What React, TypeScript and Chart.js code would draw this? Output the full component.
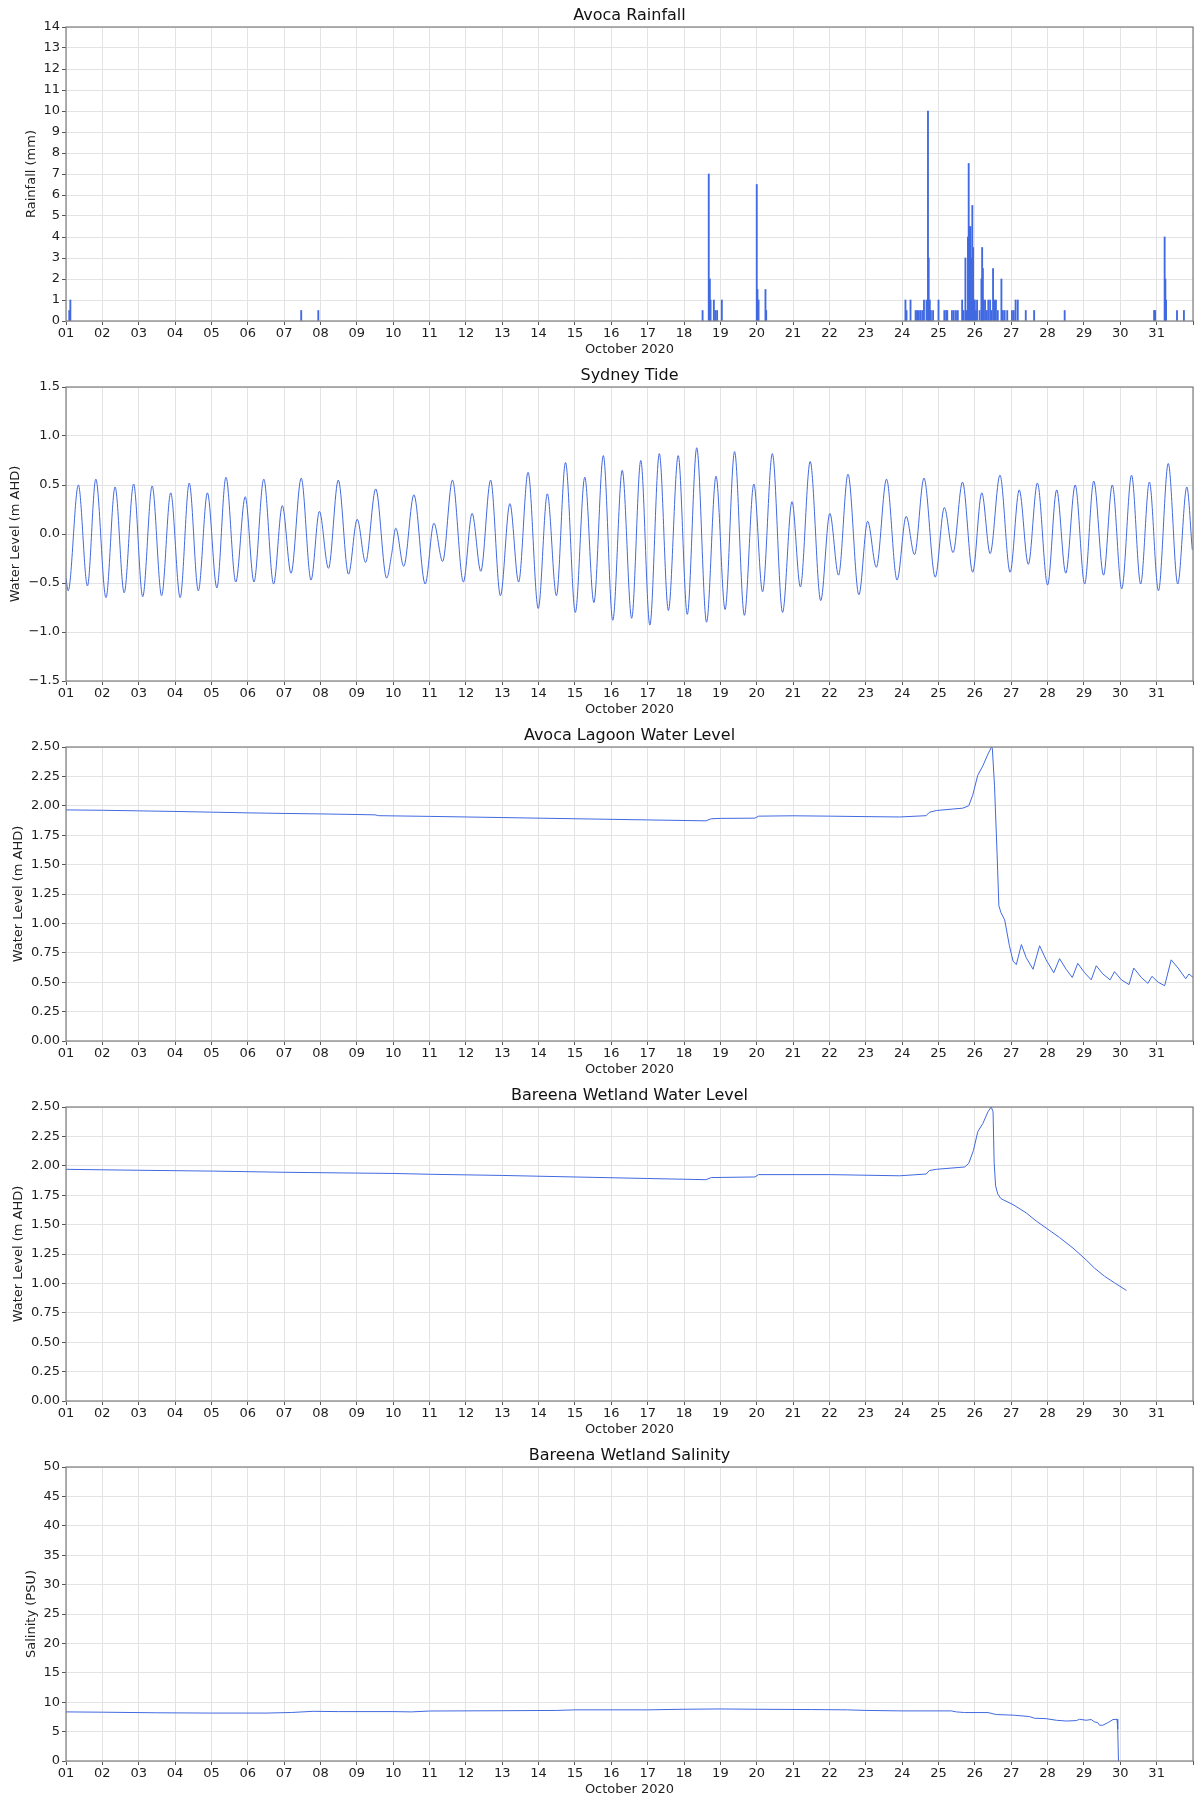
import React, { useEffect, useRef } from "react";
import { Chart, registerables } from "chart.js";

Chart.register(...registerables);

// ---------------- DATA (x = days since 1 Oct 2020 00:00) ----------------
const dayTickLabels = [
  "01", "02", "03", "04", "05", "06", "07", "08", "09", "10", "11", "12", "13", "14", "15", "16",
  "17", "18", "19", "20", "21", "22", "23", "24", "25", "26", "27", "28", "29", "30", "31",
];

const rainDay = [
  0.09, 0.12, 6.47, 6.94,
  17.51, 17.68, 17.71, 17.73, 17.82, 17.86, 17.91, 18.04,
  19.0, 19.02, 19.05, 19.24, 19.26,
  23.09, 23.12, 23.23, 23.37, 23.41, 23.46, 23.51, 23.56, 23.6, 23.67, 23.71, 23.73, 23.76, 23.79, 23.85,
  24.0, 24.16, 24.21, 24.24, 24.37, 24.42, 24.48, 24.53, 24.65, 24.69, 24.74, 24.78, 24.81, 24.83, 24.85,
  24.88, 24.91, 24.93, 24.95, 24.97, 25.0, 25.03, 25.06, 25.13, 25.18, 25.2, 25.22, 25.24, 25.28, 25.33,
  25.37, 25.42, 25.45, 25.5, 25.54, 25.58, 25.63, 25.73, 25.77, 25.82, 25.89, 26.02, 26.07, 26.12, 26.18,
  26.4, 26.63, 27.47, 29.93, 29.96, 30.22, 30.24, 30.26, 30.56, 30.75,
];
const rainMm = [
  0.5, 1.0, 0.5, 0.5,
  0.5, 7.0, 2.0, 1.0, 1.0, 0.5, 0.5, 1.0,
  6.5, 1.5, 1.0, 1.5, 0.5,
  1.0, 0.5, 1.0, 0.5, 0.5, 0.5, 0.5, 0.5, 1.0, 1.0, 10.0, 3.0, 1.0, 0.5, 0.5,
  1.0, 0.5, 0.5, 0.5, 0.5, 0.5, 0.5, 0.5, 1.0, 0.5, 3.0, 0.5, 4.0, 7.5, 4.5,
  4.5, 3.0, 5.5, 3.5, 1.0, 1.0, 0.5, 1.0, 0.5, 2.0, 3.5, 2.5, 1.0, 1.0, 0.5,
  1.0, 1.0, 0.5, 2.5, 1.0, 1.0, 0.5, 2.0, 0.5, 0.5, 0.5, 0.5, 0.5, 1.0, 1.0,
  0.5, 0.5, 0.5, 0.5, 0.5, 4.0, 2.0, 1.0, 0.5, 0.5,
];

const tideDay = [
  0.0, 0.06, 0.34, 0.59, 0.82, 1.1, 1.35, 1.6, 1.86, 2.11, 2.37, 2.63, 2.88, 3.14, 3.39, 3.64, 3.89,
  4.15, 4.4, 4.67, 4.93, 5.17, 5.44, 5.71, 5.95, 6.19, 6.47, 6.74, 6.97, 7.22, 7.49, 7.77, 8.01, 8.24,
  8.52, 8.82, 8.96, 9.07, 9.29, 9.57, 9.88, 10.12, 10.36, 10.63, 10.93, 11.17, 11.41, 11.68, 11.95,
  12.21, 12.45, 12.71, 12.99, 13.24, 13.49, 13.74, 14.01, 14.27, 14.52, 14.78, 15.04, 15.3, 15.56,
  15.81, 16.06, 16.32, 16.57, 16.84, 17.09, 17.35, 17.62, 17.88, 18.13, 18.39, 18.66, 18.92, 19.16,
  19.43, 19.71, 19.97, 20.2, 20.47, 20.76, 21.01, 21.25, 21.51, 21.81, 22.05, 22.29, 22.57, 22.86,
  23.11, 23.34, 23.6, 23.91, 24.16, 24.4, 24.66, 24.94, 25.19, 25.42, 25.69, 25.97, 26.22, 26.47,
  26.72, 27.0, 27.25, 27.5, 27.76, 28.02, 28.27, 28.54, 28.78, 29.04, 29.31, 29.56, 29.8, 30.05,
  30.32, 30.58, 30.83, 30.98,
];
const tideLevel = [
  -0.45, -0.58, 0.5, -0.53, 0.56, -0.65, 0.48, -0.6, 0.51, -0.64, 0.49, -0.63, 0.42, -0.65, 0.52, -0.58, 0.42,
  -0.55, 0.58, -0.49, 0.38, -0.49, 0.56, -0.51, 0.29, -0.4, 0.57, -0.47, 0.23, -0.35, 0.55, -0.41, 0.15, -0.29,
  0.46, -0.45, -0.2, 0.06, -0.33, 0.4, -0.51, 0.11, -0.28, 0.55, -0.49, 0.21, -0.38, 0.55, -0.63,
  0.31, -0.49, 0.63, -0.76, 0.41, -0.63, 0.73, -0.8, 0.58, -0.7, 0.8, -0.88, 0.65, -0.86,
  0.75, -0.93, 0.82, -0.78, 0.8, -0.82, 0.88, -0.9, 0.59, -0.77, 0.84, -0.83, 0.51, -0.59,
  0.82, -0.8, 0.33, -0.54, 0.74, -0.68, 0.21, -0.42, 0.61, -0.62, 0.13, -0.34, 0.56, -0.47,
  0.18, -0.21, 0.57, -0.44, 0.27, -0.19, 0.53, -0.39, 0.42, -0.2, 0.6, -0.39, 0.45, -0.31,
  0.52, -0.52, 0.45, -0.4, 0.5, -0.51, 0.54, -0.42, 0.5, -0.56, 0.6, -0.51, 0.53, -0.58,
  0.72, -0.51, 0.48, -0.16,
];

const lagoonDay = [
  0.0, 1.0, 2.0, 3.0, 4.0, 5.0, 6.0, 7.0, 8.0, 8.5, 8.6, 10.0, 12.0, 14.0, 16.0, 17.6, 17.75, 18.0,
  18.95, 19.05, 20.0, 21.0, 22.0, 22.93, 23.66, 23.75, 23.94, 24.67, 24.83, 24.94, 25.08, 25.22,
  25.36, 25.46, 25.48, 25.54, 25.61, 25.66, 25.72, 25.82, 25.95, 26.05, 26.14, 26.28, 26.41, 26.6,
  26.78, 26.96, 27.17, 27.33, 27.51, 27.68, 27.83, 28.02, 28.2, 28.34, 28.52, 28.72, 28.84, 29.03,
  29.24, 29.37, 29.58, 29.76, 29.87, 30.04, 30.22, 30.4, 30.59, 30.8, 30.89, 31.0,
];
const lagoonLevel = [
  1.965, 1.962, 1.957, 1.952, 1.946, 1.94, 1.935, 1.931, 1.926, 1.923, 1.916, 1.91, 1.9, 1.89, 1.88, 1.872, 1.89, 1.893,
  1.895, 1.912, 1.915, 1.912, 1.908, 1.905, 1.916, 1.945, 1.96, 1.98, 2.0, 2.09, 2.26, 2.34,
  2.44, 2.5, 2.49, 2.17, 1.6, 1.15, 1.09, 1.03, 0.81, 0.68, 0.65, 0.82, 0.71, 0.61,
  0.81, 0.69, 0.58, 0.7, 0.61, 0.54, 0.66, 0.58, 0.52, 0.64, 0.57, 0.52, 0.59, 0.52,
  0.48, 0.62, 0.54, 0.49, 0.55, 0.5, 0.47, 0.69, 0.62, 0.53, 0.57, 0.54,
];

const wetlandDay = [
  0.0, 2.0, 4.0, 6.0, 8.0, 9.0, 10.0, 12.0, 14.0, 16.0, 17.6, 17.75, 18.95, 19.05, 21.0, 22.93,
  23.66, 23.75, 23.94, 24.72, 24.83, 24.96, 25.08, 25.22, 25.36, 25.45, 25.5, 25.53, 25.57, 25.63,
  25.72, 26.05, 26.41, 26.69, 27.01, 27.33, 27.7, 28.06, 28.29, 28.57, 28.84, 29.17,
];
const wetlandLevel = [
  1.97, 1.962, 1.955, 1.945, 1.938, 1.935, 1.928, 1.918, 1.905, 1.892, 1.882, 1.9, 1.905, 1.925, 1.925, 1.915,
  1.93, 1.96, 1.97, 1.99, 2.02, 2.13, 2.29, 2.36, 2.46, 2.5, 2.46, 2.03, 1.83, 1.76,
  1.72, 1.67, 1.6, 1.53, 1.46, 1.39, 1.3, 1.2, 1.13, 1.06, 1.005, 0.94,
];

const salinityDay = [
  0.0, 1.0, 2.5, 4.0, 5.5, 6.2, 6.8, 7.5, 9.0, 9.5, 10.0, 12.0, 13.5, 14.0, 16.0, 17.0, 18.0, 19.0,
  20.5, 21.5, 22.0, 23.0, 24.35, 24.49, 24.72, 25.36, 25.59, 26.05, 26.5, 26.64, 26.96, 27.24, 27.51,
  27.79, 27.88, 28.06, 28.2, 28.29, 28.38, 28.43, 28.52, 28.66, 28.8, 28.91, 28.93, 28.95,
];
const salinityPsu = [
  8.35, 8.3, 8.2, 8.15, 8.15, 8.25, 8.45, 8.4, 8.4, 8.35, 8.5, 8.55, 8.6, 8.7, 8.7, 8.8, 8.85, 8.8,
  8.75, 8.7, 8.6, 8.52, 8.52, 8.35, 8.24, 8.24, 7.9, 7.8, 7.56, 7.27, 7.2, 6.93, 6.8,
  6.87, 7.1, 6.93, 7.05, 6.65, 6.53, 6.08, 6.08, 6.53, 7.05, 7.1, 5.4, 0.0,
];

// ---------------- STYLE ----------------
const FONT = "'DejaVu Sans', 'Liberation Sans', sans-serif";
const BLUE = "rgb(65,105,225)";
const GRID = "#e3e3e3";
const TICK_COLOR = "#555";
const TEXT = "#1e1e1e";
const PANEL_PITCH = 360;
const AREA_TOP = 27;
const AREA_BOTTOM = 321;
const AREA_LEFT = 66;

const framePlugin = {
  id: "frameBox",
  afterDatasetsDraw(chart: any) {
    const { ctx, chartArea: a } = chart;
    ctx.save();
    ctx.strokeStyle = "#7d7d7d";
    ctx.lineWidth = 1.2;
    ctx.strokeRect(a.left, a.top, a.right - a.left, a.bottom - a.top);
    ctx.restore();
  },
};

// title centred over the plotting area (as in the reference)
const axesTitlePlugin = {
  id: "axesTitle",
  afterDraw(chart: any, _args: any, opts: any) {
    const { ctx, chartArea: a } = chart;
    ctx.save();
    ctx.fillStyle = "#111";
    ctx.font = `16px ${FONT}`;
    ctx.textAlign = "center";
    ctx.textBaseline = "middle";
    ctx.fillText(opts.text, (a.left + a.right) / 2, 16);
    ctx.restore();
  },
};

const toPoints = (xs: number[], ys: number[]) => xs.map((x, i) => ({ x, y: ys[i] }));
const minus = (s: string) => s.replace("-", "\u2212");

type PanelSpec = {
  title: string;
  yLabel: string;
  yMin: number;
  yMax: number;
  yStep: number;
  yFmt: (v: number) => string;
  yTitlePad: number;
  kind: "bar" | "line";
  smooth?: boolean;
  xs: number[];
  ys: number[];
};

const panels: PanelSpec[] = [
  {
    title: "Avoca Rainfall", yLabel: "Rainfall (mm)", yMin: 0, yMax: 14, yStep: 1,
    yFmt: (v) => String(Math.round(v)), yTitlePad: 24, kind: "bar", xs: rainDay, ys: rainMm,
  },
  {
    title: "Sydney Tide", yLabel: "Water Level (m AHD)", yMin: -1.5, yMax: 1.5, yStep: 0.5,
    yFmt: (v) => minus(v.toFixed(1)), yTitlePad: 8, kind: "line", smooth: true, xs: tideDay, ys: tideLevel,
  },
  {
    title: "Avoca Lagoon Water Level", yLabel: "Water Level (m AHD)", yMin: 0, yMax: 2.5, yStep: 0.25,
    yFmt: (v) => v.toFixed(2), yTitlePad: 10.5, kind: "line", xs: lagoonDay, ys: lagoonLevel,
  },
  {
    title: "Bareena Wetland Water Level", yLabel: "Water Level (m AHD)", yMin: 0, yMax: 2.5, yStep: 0.25,
    yFmt: (v) => v.toFixed(2), yTitlePad: 10.5, kind: "line", xs: wetlandDay, ys: wetlandLevel,
  },
  {
    title: "Bareena Wetland Salinity", yLabel: "Salinity (PSU)", yMin: 0, yMax: 50, yStep: 5,
    yFmt: (v) => String(Math.round(v)), yTitlePad: 24, kind: "line", xs: salinityDay, ys: salinityPsu,
  },
];

function Panel({ spec, top, height }: { spec: PanelSpec; top: number; height: number }) {
  const ref = useRef<HTMLCanvasElement | null>(null);

  useEffect(() => {
    if (!ref.current) return;
    const tickFont = { family: FONT, size: 13 };
    const dataset: any =
      spec.kind === "bar"
        ? {
            type: "bar",
            data: toPoints(spec.xs, spec.ys),
            backgroundColor: BLUE,
            borderWidth: 0,
            barThickness: 1.2,
            grouped: false,
          }
        : {
            type: "line",
            data: toPoints(spec.xs, spec.ys),
            borderColor: BLUE,
            borderWidth: 1,
            pointRadius: 0,
            fill: false,
            tension: spec.smooth ? 0.4 : 0,
            cubicInterpolationMode: spec.smooth ? "monotone" : "default",
          };

    const chart = new Chart(ref.current, {
      type: spec.kind,
      data: { datasets: [dataset] },
      plugins: [framePlugin, axesTitlePlugin],
      options: {
        animation: false,
        responsive: false,
        events: [],
        layout: { padding: { left: 0, right: 5, top: AREA_TOP, bottom: 0 } },
        plugins: {
          legend: { display: false },
          tooltip: { enabled: false },
          title: { display: false },
          axesTitle: { text: spec.title },
        },
        scales: {
          x: {
            type: "linear",
            min: 0,
            max: 31,
            offset: false,
            afterFit: (s: any) => {
              s.height = height - AREA_BOTTOM;
            },
            grid: { color: GRID, lineWidth: 1, drawTicks: true, tickLength: 4, tickColor: TICK_COLOR, offset: false },
            border: { display: false },
            ticks: {
              stepSize: 1,
              autoSkip: false,
              maxRotation: 0,
              minRotation: 0,
              padding: 1,
              color: TEXT,
              font: tickFont,
              callback: (v: any) => dayTickLabels[Math.round(Number(v))] ?? "",
            },
            title: {
              display: true,
              text: "October 2020",
              color: TEXT,
              font: tickFont,
              padding: { top: 0, bottom: 3 - (PANEL_PITCH - height) },
            },
          },
          y: {
            type: "linear",
            min: spec.yMin,
            max: spec.yMax,
            afterFit: (s: any) => {
              s.width = AREA_LEFT;
            },
            grid: { color: GRID, lineWidth: 1, drawTicks: true, tickLength: 4, tickColor: TICK_COLOR },
            border: { display: false },
            ticks: {
              stepSize: spec.yStep,
              autoSkip: false,
              padding: 2,
              color: TEXT,
              font: tickFont,
              callback: (v: any) => spec.yFmt(Number(v)),
            },
            title: {
              display: true,
              text: spec.yLabel,
              color: TEXT,
              font: { family: FONT, size: 13 },
              padding: { top: spec.yTitlePad, bottom: 0 },
            },
          },
        },
      } as any,
    });
    return () => chart.destroy();
  }, [spec, height]);

  return (
    <canvas
      ref={ref}
      width={1198}
      height={height}
      style={{ position: "absolute", left: 0, top, width: 1198, height, display: "block" }}
    />
  );
}

export default function App() {
  return (
    <div
      style={{
        position: "absolute",
        left: 0,
        top: 0,
        width: 1198,
        height: 1798,
        overflow: "hidden",
        background: "#fff",
      }}
    >
      {panels.map((p, i) => (
        <Panel key={i} spec={p} top={i * PANEL_PITCH} height={i === panels.length - 1 ? 358 : PANEL_PITCH} />
      ))}
    </div>
  );
}
